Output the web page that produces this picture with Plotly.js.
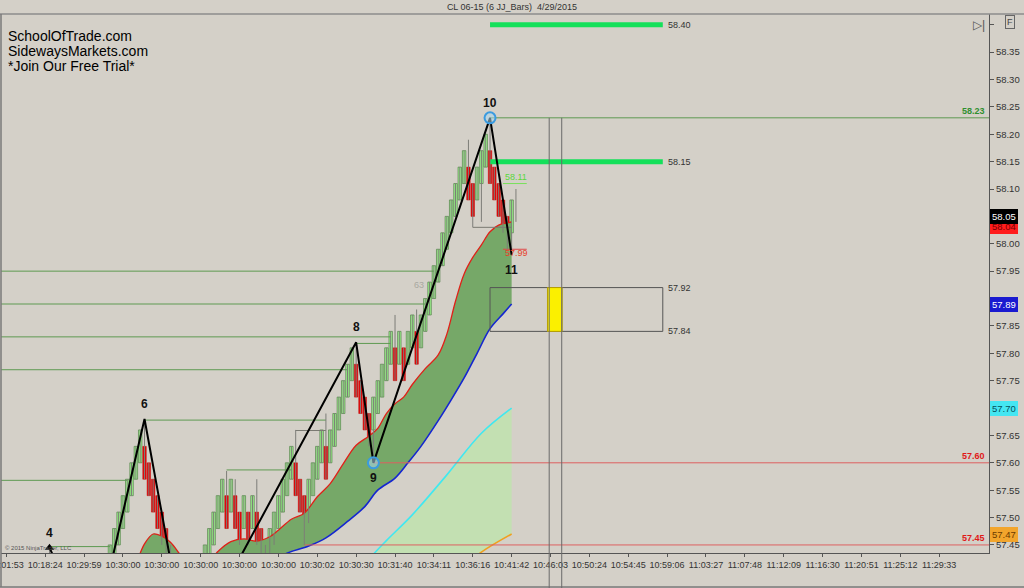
<!DOCTYPE html>
<html><head><meta charset="utf-8">
<script src="https://cdn.plot.ly/plotly-3.0.1.min.js"></script>
<style>html,body{margin:0;padding:0;background:#d4d0c8;overflow:hidden}#chart{width:1024px;height:588px}</style>
</head><body><div id="chart"></div>
<script>
// ---------- DATA ----------
const tickBars = [0,9,18,27,36,45,54,63,72,81,90,99,108,117,126,135,144,153,162,171,180,189,198,207,216];
const tickLabels = ["10:01:53","10:18:24","10:29:59","10:30:00","10:30:00","10:30:00","10:30:00","10:30:00","10:30:02","10:30:30","10:31:40","10:34:11","10:36:16","10:41:42","10:46:03","10:50:24","10:54:45","10:59:06","11:03:27","11:07:48","11:12:09","11:16:30","11:20:51","11:25:12","11:29:33"];
const priceTicks = [57.45,57.50,57.55,57.60,57.65,57.70,57.75,57.80,57.85,57.90,57.95,58.00,58.05,58.10,58.15,58.20,58.25,58.30,58.35,58.40];
const priceTickText = ["57.45","57.50","57.55","57.60","57.65","","57.75","57.80","57.85","","57.95","58.00","","58.10","58.15","58.20","58.25","58.30","58.35",""];

const barOpen = [
57.19,57.22,57.25,57.22,57.25,57.28,57.31,57.34,57.31,57.34,
57.37,57.40,57.37,57.34,57.37,57.34,57.37,57.34,57.37,57.35,
57.33,57.30,57.33,57.36,57.39,57.42,57.45,57.48,57.51,57.54,
57.57,57.60,57.63,57.60,57.57,57.54,57.51,57.48,57.45,57.42,
57.39,57.36,57.33,57.30,57.33,57.36,57.39,57.42,57.45,57.48,
57.51,57.54,57.51,57.54,57.51,57.48,57.51,57.48,57.51,57.48,
57.45,57.42,57.45,57.48,57.51,57.54,57.57,57.60,57.57,57.54,
57.51,57.54,57.57,57.60,57.63,57.60,57.63,57.66,57.69,57.72,
57.75,57.78,57.75,57.72,57.69,57.66,57.69,57.72,57.75,57.78,
57.81,57.78,57.81,57.78,57.81,57.84,57.81,57.84,57.87,57.90,
57.93,57.96,57.99,58.02,58.05,58.08,58.11,58.14,58.11,58.08,
58.11,58.14,58.17,58.14,58.11,58.08,58.05,58.02,58.05];
const barClose = [
57.25,57.28,57.19,57.28,57.31,57.34,57.37,57.28,57.37,57.40,
57.43,57.34,57.31,57.40,57.31,57.40,57.31,57.40,57.31,57.29,
57.27,57.36,57.39,57.42,57.45,57.48,57.51,57.54,57.57,57.60,
57.63,57.66,57.57,57.54,57.51,57.48,57.45,57.42,57.39,57.36,
57.33,57.30,57.27,57.36,57.39,57.42,57.45,57.48,57.51,57.54,
57.57,57.48,57.57,57.48,57.45,57.54,57.45,57.54,57.45,57.42,
57.39,57.48,57.51,57.54,57.57,57.60,57.63,57.54,57.51,57.48,
57.57,57.60,57.63,57.66,57.57,57.66,57.69,57.72,57.75,57.78,
57.81,57.72,57.69,57.66,57.63,57.72,57.75,57.78,57.81,57.84,
57.75,57.84,57.75,57.84,57.87,57.78,57.87,57.90,57.93,57.96,
57.99,58.02,58.05,58.08,58.11,58.14,58.17,58.08,58.05,58.14,
58.17,58.20,58.11,58.08,58.05,58.02,57.99,58.08,58.05];
const barHigh = [
57.25,57.28,57.25,57.28,57.31,57.34,57.37,57.34,57.37,57.40,
57.445,57.40,57.37,57.40,57.37,57.40,57.37,57.40,57.37,57.35,
57.33,57.36,57.39,57.42,57.45,57.48,57.51,57.54,57.57,57.60,
57.63,57.66,57.68,57.60,57.57,57.54,57.51,57.48,57.45,57.42,
57.39,57.36,57.33,57.36,57.39,57.42,57.45,57.48,57.51,57.54,
57.57,57.585,57.57,57.57,57.51,57.54,57.51,57.54,57.57,57.48,
57.45,57.48,57.51,57.54,57.57,57.60,57.63,57.66,57.57,57.54,
57.57,57.60,57.63,57.66,57.69,57.66,57.69,57.72,57.75,57.78,
57.81,57.82,57.75,57.72,57.69,57.72,57.75,57.78,57.81,57.84,
57.87,57.84,57.81,57.84,57.87,57.88,57.87,57.90,57.93,57.96,
57.99,58.02,58.05,58.08,58.11,58.14,58.17,58.19,58.11,58.14,
58.17,58.20,58.23,58.14,58.11,58.08,58.05,58.08,58.10];
const barLow = [
57.19,57.22,57.19,57.22,57.25,57.28,57.31,57.28,57.31,57.34,
57.37,57.34,57.31,57.34,57.31,57.34,57.31,57.34,57.31,57.29,
57.27,57.30,57.33,57.36,57.39,57.42,57.45,57.48,57.51,57.54,
57.57,57.60,57.57,57.54,57.51,57.48,57.45,57.42,57.39,57.36,
57.33,57.30,57.25,57.30,57.33,57.36,57.39,57.42,57.45,57.48,
57.51,57.48,57.51,57.48,57.45,57.48,57.45,57.48,57.45,57.42,
57.39,57.42,57.45,57.48,57.51,57.54,57.57,57.54,57.51,57.45,
57.49,57.54,57.57,57.60,57.57,57.60,57.63,57.66,57.69,57.72,
57.75,57.72,57.69,57.66,57.63,57.60,57.69,57.72,57.75,57.78,
57.75,57.78,57.75,57.78,57.81,57.78,57.81,57.84,57.87,57.90,
57.93,57.96,57.99,58.02,58.05,58.08,58.11,58.08,58.03,58.08,
58.04,58.14,58.11,58.08,58.05,58.02,57.99,57.98,58.04];

// moving averages (sampled at bar numbers)
const redMaBar   = [28,30,32,34,36,38,40,43,46,49,52,55,58,61,63,66,69,72,75,78,81,84,86,88,90,92,94,97,100,102,104,106,108,110,112,114,116,117];
const redMaPrice = [57.40,57.418,57.452,57.47,57.466,57.455,57.435,57.40,57.41,57.438,57.456,57.461,57.457,57.465,57.477,57.497,57.508,57.538,57.562,57.598,57.632,57.649,57.663,57.69,57.708,57.72,57.743,57.772,57.797,57.835,57.895,57.945,57.975,57.998,58.022,58.034,58.038,58.04];
const blueMaBar   = [28,40,50,58,62,65,70,74,79,83,86,90,93,96,100,103,106,109,112,115,117];
const blueMaPrice = [57.25,57.30,57.36,57.40,57.42,57.435,57.448,57.463,57.493,57.52,57.55,57.572,57.60,57.63,57.677,57.715,57.755,57.80,57.845,57.872,57.89];
const cyanMaBar   = [75,80,85,88,94,102,110,117];
const cyanMaPrice = [57.34,57.385,57.433,57.458,57.505,57.578,57.654,57.70];
const orangeMaBar   = [75,90,100,105,110,117];
const orangeMaPrice = [57.25,57.33,57.38,57.405,57.437,57.47];

// zigzag swing points
const swingBar   = [10,20,32,42,81,85,112,117];
const swingPrice = [57.445,57.27,57.68,57.25,57.82,57.60,58.23,57.98];
const swingLabel = ["4","5","6","7","8","9","10","11"];
const swingIsHigh = [true,false,true,false,true,false,true,false];
const swingCircle = [false,false,false,false,false,true,true,false];

// horizontal level lines
const greenLevelPrice = [57.95,57.89,57.83,57.77,57.678,57.568,57.447,57.818,58.23,57.587];
const greenLevelFrom  = [-2,-2,-2,-2,32,-2,10,81,112,51];
const greenLevelTo    = [99,97,89,79,74,28,24,89,230,66];
const grayLevelPrice = [57.659,58.03];
const grayLevelFrom  = [67,108];
const grayLevelTo    = [74,117];
const redLevelPrice = [57.60,57.45];
const redLevelFrom  = [85,69];
const redLevelTo    = [230,230];

// targets & zone
const targetPrice = [58.40,58.15];
const targetFrom = 112, targetTo = 152;
const zoneTop = 57.92, zoneBottom = 57.84;
const zoneFrom = 112, zoneTo = 152;
const timeMarkBars = [125.7,128.6];
const projUpPrice = 58.11, projDownPrice = 57.99;
const projFrom = 115, projTo = 120.5;

// right axis price tags
const tagPrice = [58.04,58.05,57.89,57.70,57.47];
const tagBg    = ["#ff1c1c","#000000","#1a1ad0","#44e6f2","#f2a52c"];
const tagFg    = ["#7a0000","#ffffff","#ffffff","#05505a","#6a3a00"];
const tagShift = [-5,0,0,0,0];
const levelTagPrice = [58.23,57.60,57.45];
const levelTagColor = ["#2f8f2f","#e01818","#e01818"];

// ---------- BUILD ----------
const yMin = 57.4353, yMax = 58.4196;
const xMin = -1.23, xMax = 227.53;
const barX = barOpen.map((_, i) => i);
function yFrac(p){ return (p - yMin) / (yMax - yMin); }
function segs(prices, from, to){
  const x = [], y = [];
  prices.forEach((p, i) => { x.push(from[i], to[i], null); y.push(p, p, null); });
  return {x, y};
}
const traces = [];
traces.push({type:'scatter', mode:'lines', x:orangeMaBar, y:orangeMaPrice, line:{color:'#f0a020', width:1.6, shape:'spline'}, hoverinfo:'skip'});
traces.push({type:'scatter', mode:'lines', x:cyanMaBar, y:cyanMaPrice, line:{color:'#40e8f0', width:1.6, shape:'spline'}, fill:'tonexty', fillcolor:'#c3e0b2', hoverinfo:'skip'});
traces.push({type:'scatter', mode:'lines', x:blueMaBar, y:blueMaPrice, line:{color:'#1426d0', width:1.6, shape:'spline'}, hoverinfo:'skip'});
traces.push({type:'scatter', mode:'lines', x:redMaBar, y:redMaPrice, line:{color:'#e02018', width:1.3, shape:'spline'}, fill:'tonexty', fillcolor:'#76a868', hoverinfo:'skip'});

const g = segs(greenLevelPrice, greenLevelFrom, greenLevelTo);
traces.push({type:'scatter', mode:'lines', x:g.x, y:g.y, line:{color:'#5e9a52', width:1}, hoverinfo:'skip'});
const gr = segs(grayLevelPrice, grayLevelFrom, grayLevelTo);
traces.push({type:'scatter', mode:'lines', x:gr.x, y:gr.y, line:{color:'#7a7a72', width:1}, hoverinfo:'skip'});
const rl = segs(redLevelPrice, redLevelFrom, redLevelTo);
traces.push({type:'scatter', mode:'lines', x:rl.x, y:rl.y, line:{color:'#dd6060', width:1}, hoverinfo:'skip'});
const tg = segs(targetPrice, targetPrice.map(()=>targetFrom), targetPrice.map(()=>targetTo));
traces.push({type:'scatter', mode:'lines', x:tg.x, y:tg.y, line:{color:'#14e05a', width:5}, hoverinfo:'skip'});
traces.push({type:'scatter', mode:'lines', x:[projFrom, projTo], y:[projUpPrice, projUpPrice], line:{color:'#78e05a', width:1}, hoverinfo:'skip'});
traces.push({type:'scatter', mode:'lines', x:[projFrom, projTo], y:[projDownPrice, projDownPrice], line:{color:'#e04848', width:1}, hoverinfo:'skip'});

// wicks (grey) then bodies
const wx = [], wy = [];
barX.forEach(i => { wx.push(i, i, null); wy.push(barLow[i], barHigh[i], null); });
traces.push({type:'scatter', mode:'lines', x:wx, y:wy, line:{color:'#7d7d78', width:1}, hoverinfo:'skip'});
const upIdx = barX.filter(i => barClose[i] > barOpen[i]);
const dnIdx = barX.filter(i => barClose[i] < barOpen[i]);
traces.push({type:'bar', x:upIdx, base:upIdx.map(i=>barOpen[i]), y:upIdx.map(i=>barClose[i]-barOpen[i]), width:0.8,
  marker:{color:'#9cf28c', line:{color:'#55804a', width:0.7}}, hoverinfo:'skip'});
traces.push({type:'bar', x:dnIdx, base:dnIdx.map(i=>barClose[i]), y:dnIdx.map(i=>barOpen[i]-barClose[i]), width:0.8,
  marker:{color:'#e00c0c', line:{color:'#c40000', width:0.5}}, hoverinfo:'skip'});

traces.push({type:'scatter', mode:'lines', x:swingBar, y:swingPrice, line:{color:'#000000', width:2}, hoverinfo:'skip'});
traces.push({type:'scatter', mode:'markers', x:swingBar.filter((_, i)=>swingCircle[i]), y:swingPrice.filter((_, i)=>swingCircle[i]),
  marker:{symbol:'circle', size:11, color:'rgba(170,215,240,0.55)', line:{color:'#3a9be0', width:2}}, hoverinfo:'skip'});
traces.push({type:'scatter', mode:'markers', x:[swingBar[0]], y:[swingPrice[0]], marker:{symbol:'triangle-up', size:8, color:'#000'}, hoverinfo:'skip'});

const annotations = [];
swingBar.forEach((b, i) => {
  if (swingPrice[i] < yMin) return;
  annotations.push({x:b, y:swingPrice[i], xref:'x', yref:'y', text:swingLabel[i], showarrow:false,
    yshift: swingIsHigh[i] ? 15 : -15, font:{size:12, color:'#111', weight:'bold'}});
});
tagPrice.forEach((p, i) => annotations.push({x:1, xref:'paper', xanchor:'left', xshift:1, y:p, yref:'y', yshift:tagShift[i], text:p.toFixed(2),
  showarrow:false, bgcolor:tagBg[i], bordercolor:tagBg[i], borderpad:1, font:{size:9.5, color:tagFg[i]}}));
levelTagPrice.forEach((p, i) => annotations.push({x:1, xref:'paper', xanchor:'right', xshift:-2, y:p, yref:'y', yanchor:'bottom',
  text:p.toFixed(2), showarrow:false, font:{size:9, color:levelTagColor[i], weight:'bold'}}));
targetPrice.forEach(p => annotations.push({x:targetTo, xref:'x', xanchor:'left', xshift:3, y:p, yref:'y', text:p.toFixed(2), showarrow:false, font:{size:9, color:'#333'}}));
[zoneTop, zoneBottom].forEach(p => annotations.push({x:zoneTo, xref:'x', xanchor:'left', xshift:3, y:p, yref:'y', text:p.toFixed(2), showarrow:false, font:{size:9, color:'#333'}}));
annotations.push({x:projFrom, xref:'x', xanchor:'left', xshift:0, y:projUpPrice, yref:'y', yanchor:'bottom', text:projUpPrice.toFixed(2), showarrow:false, font:{size:9, color:'#5ad83a'}});
annotations.push({x:projFrom, xref:'x', xanchor:'left', xshift:0, y:projDownPrice, yref:'y', yshift:-4, text:projDownPrice.toFixed(2), showarrow:false, font:{size:9, color:'#e8402a'}});
annotations.push({x:95.5, xref:'x', y:57.925, yref:'y', text:'63', showarrow:false, font:{size:9, color:'#a8a8a0'}});
const brand = ["SchoolOfTrade.com","SidewaysMarkets.com","*Join Our Free Trial*"];
brand.forEach((t, i) => annotations.push({x:0.005, xref:'paper', xanchor:'left', y:(553-36-15*i)/539, yref:'paper', yanchor:'middle',
  text:t, showarrow:false, font:{size:14, color:'#000', family:'"Liberation Sans", Arial, sans-serif'}}));
annotations.push({x:0.002, xref:'paper', xanchor:'left', y:(553-548)/539, yref:'paper', yanchor:'middle', text:'© 2015 NinjaTrader, LLC', showarrow:false, font:{size:6, color:'#555'}});
annotations.push({x:(1010-1)/988, xref:'paper', xanchor:'center', y:(553-22)/539, yref:'paper', yanchor:'middle', text:'F', showarrow:false,
  bordercolor:'#666', borderwidth:1, borderpad:1, font:{size:9, color:'#444'}});
annotations.push({x:(979-1)/988, xref:'paper', xanchor:'center', y:(553-25)/539, yref:'paper', yanchor:'middle', text:'▷|', showarrow:false, font:{size:12, color:'#555'}});

const shapes = [
  {type:'line', xref:'paper', yref:'paper', x0:-0.01, x1:1.05, y0:1, y1:1, line:{color:'#8c8c8c', width:1.5}},
  {type:'line', xref:'paper', yref:'paper', x0:0, x1:0, y0:1, y1:(553-587)/539, line:{color:'#7a7a7a', width:1.5}},
  {type:'line', xref:'paper', yref:'paper', x0:-0.01, x1:1.05, y0:(553-587)/539, y1:(553-587)/539, line:{color:'#7a7a7a', width:1.5}},
  {type:'rect', xref:'x', yref:'y', x0:zoneFrom, x1:zoneTo, y0:zoneBottom, y1:zoneTop, line:{color:'#555', width:1}, fillcolor:'rgba(0,0,0,0)'},
  {type:'rect', xref:'x', yref:'y', x0:timeMarkBars[0]-0.4, x1:timeMarkBars[1]+0.1, y0:zoneBottom, y1:zoneTop, line:{color:'#b8a000', width:1}, fillcolor:'#fbf000'}
];
timeMarkBars.forEach(b => shapes.push({type:'line', xref:'x', yref:'paper', x0:b, x1:b, y0:(553-588)/539, y1:yFrac(58.23), line:{color:'#6a6a6a', width:1}}));

const layout = {
  width:1024, height:588, paper_bgcolor:'#d4d0c8', plot_bgcolor:'#d4d0c8',
  margin:{l:1, r:35, t:14, b:35, pad:0}, showlegend:false, barmode:'overlay',
  font:{family:'"Liberation Sans", Arial, sans-serif', size:9, color:'#333'},
  title:{text:'CL 06-15 (6 JJ_Bars)  4/29/2015', font:{size:9, color:'#333'}, x:0.5, xref:'container', y:1-7/588, yref:'container', yanchor:'middle'},
  xaxis:{type:'linear', range:[xMin, xMax], tickvals:tickBars, ticktext:tickLabels, showgrid:false, zeroline:false,
    showline:true, linecolor:'#555', linewidth:1, ticks:'outside', ticklen:3, tickcolor:'#555', tickfont:{size:9, color:'#333'},
    ticklabeloverflow:'allow', fixedrange:true},
  yaxis:{side:'right', range:[yMin, yMax], tickvals:priceTicks, ticktext:priceTickText, showgrid:false, zeroline:false,
    showline:true, linecolor:'#555', linewidth:1, ticks:'outside', ticklen:4, tickcolor:'#555', tickfont:{size:9.5, color:'#333'}, fixedrange:true},
  annotations, shapes
};
Plotly.newPlot('chart', traces, layout, {staticPlot:true, displayModeBar:false});
</script></body></html>
